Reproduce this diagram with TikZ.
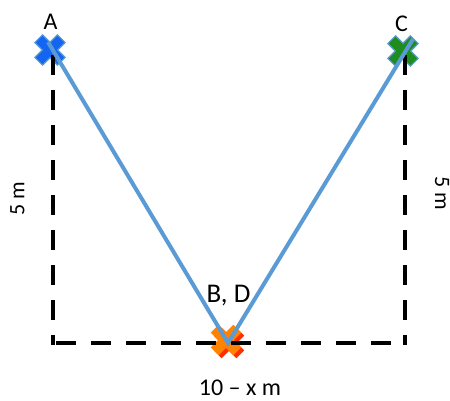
\documentclass[tikz,border=0pt]{standalone}
\usepackage{fontspec}
\setmainfont{Carlito}
\definecolor{lineblue}{HTML}{5B9BD5}
\definecolor{xblue}{HTML}{1466F2}
\definecolor{xgreen}{HTML}{1E8C1E}
\definecolor{xorange}{HTML}{FF8200}
\definecolor{xred}{HTML}{FF2E00}
\begin{document}
\begin{tikzpicture}[x=1pt,y=-1pt,
  xmark/.pic={\path[pic actions,rotate=45]
     (16,5.5) -- (5.5,5.5) -- (5.5,16) -- (-5.5,16) -- (-5.5,5.5) -- (-16,5.5)
     -- (-16,-5.5) -- (-5.5,-5.5) -- (-5.5,-16) -- (5.5,-16) -- (5.5,-5.5) -- (16,-5.5) -- cycle;},
  lbl/.style={font=\fontsize{24}{28}\selectfont, inner sep=0pt, text=black},
  sidelbl/.style={font=\fontsize{22}{26}\selectfont, inner sep=0pt, text=black},
  dashline/.style={black, line width=4.5pt, dash pattern=on 20pt off 15pt},
  leg/.style={lineblue, line width=4pt, line join=miter}]
\useasboundingbox (0,0) rectangle (450,401);
% cross positions
\coordinate (A) at (50,50);
\coordinate (C) at (403,51);
\coordinate (BD) at (226,340);
% crosses
\pic[fill=xblue, draw=lineblue, line width=1.2pt] at (A) {xmark};
\pic[fill=xgreen, draw=lineblue, line width=1.2pt] at (C) {xmark};
\pic[fill=xred] at ([shift={(3,3)}]BD) {xmark};
\pic[fill=xorange] at (BD) {xmark};
% dashed frame
\coordinate (Ltop) at (53,55);
\coordinate (Lbot) at (53,345);
\coordinate (Rtop) at (405,55);
\coordinate (Rbot) at (405,345);
\coordinate (Hl) at (56,343);
\coordinate (Hr) at (407,343);
\draw[dashline] (Ltop) -- (Lbot);
\draw[dashline] (Rtop) -- (Rbot);
\draw[dashline] (Hl) -- (Hr);
% legs
\coordinate (Aend) at (48,42);
\coordinate (Cend) at (413,39);
\coordinate (Bv) at (228,343);
\draw[leg] (Aend) -- (Bv) -- (Cend);
% labels
\node[lbl, anchor=base] (lA) at (50.5,30) {A};
\node[lbl, anchor=base] (lC) at (401.5,32) {C};
\node[lbl, anchor=base, font=\fontsize{27}{31}\selectfont] (lBD) at (228.5,302) {B, D};
\node[lbl, anchor=base] (lbot) at (240,395) {10 – x m};
\node[sidelbl, rotate=90] (lL) at (17.5,199) {5 m};
\node[sidelbl, rotate=-90] (lR) at (442,193) {5 m};
\end{tikzpicture}
\end{document}
